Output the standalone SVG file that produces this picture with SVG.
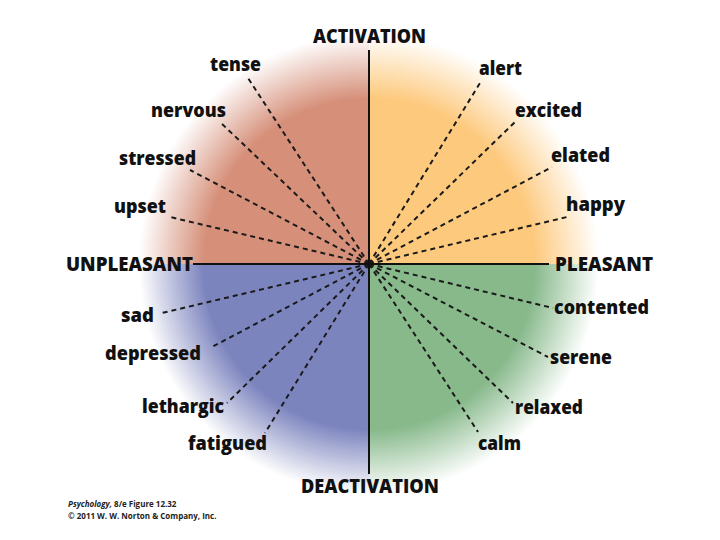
<svg xmlns="http://www.w3.org/2000/svg" width="720" height="540" viewBox="0 0 720 540">
<defs>
<radialGradient id="gTL" gradientUnits="userSpaceOnUse" cx="369" cy="264" r="230">
<stop offset="0" stop-color="#d6907a"/><stop offset="0.72" stop-color="#d6907a"/><stop offset="1" stop-color="#d6907a" stop-opacity="0"/>
</radialGradient>
<radialGradient id="gTR" gradientUnits="userSpaceOnUse" cx="369" cy="264" r="230">
<stop offset="0" stop-color="#fdc97d"/><stop offset="0.72" stop-color="#fdc97d"/><stop offset="1" stop-color="#fdc97d" stop-opacity="0"/>
</radialGradient>
<radialGradient id="gBL" gradientUnits="userSpaceOnUse" cx="369" cy="264" r="230">
<stop offset="0" stop-color="#7c84be"/><stop offset="0.72" stop-color="#7c84be"/><stop offset="1" stop-color="#7c84be" stop-opacity="0"/>
</radialGradient>
<radialGradient id="gBR" gradientUnits="userSpaceOnUse" cx="369" cy="264" r="230">
<stop offset="0" stop-color="#87b98b"/><stop offset="0.72" stop-color="#87b98b"/><stop offset="1" stop-color="#87b98b" stop-opacity="0"/>
</radialGradient>
</defs>
<style>
.lbl{font-family:"Open Sans","Liberation Sans",sans-serif;font-weight:800;font-size:19px;fill:#111}
.ax{font-family:"Open Sans","Liberation Sans",sans-serif;font-weight:800;font-size:19px;fill:#111}
.dash{stroke:#1a1a1a;stroke-width:2;stroke-dasharray:5 4;fill:none}
.axis{stroke:#111;stroke-width:2}
.foot{font-family:"Open Sans","Liberation Sans",sans-serif;font-size:8px;fill:#222;font-weight:bold}
</style>
<rect width="720" height="540" fill="#fff"/>
<g id="quadrants">
<path d="M369,264 L369,34 A230,230 0 0 0 139,264 Z" fill="url(#gTL)"/>
<path d="M369,264 L369,34 A230,230 0 0 1 599,264 Z" fill="url(#gTR)"/>
<path d="M369,264 L139,264 A230,230 0 0 0 369,494 Z" fill="url(#gBL)"/>
<path d="M369,264 L599,264 A230,230 0 0 1 369,494 Z" fill="url(#gBR)"/>
</g>
<g id="connectors">
<line class="dash" x1="369" y1="264" x2="248" y2="78"/>
<line class="dash" x1="369" y1="264" x2="220" y2="122"/>
<line class="dash" x1="369" y1="264" x2="190" y2="170"/>
<line class="dash" x1="369" y1="264" x2="170" y2="217"/>
<line class="dash" x1="369" y1="264" x2="480" y2="83"/>
<line class="dash" x1="369" y1="264" x2="517" y2="120"/>
<line class="dash" x1="369" y1="264" x2="552" y2="167"/>
<line class="dash" x1="369" y1="264" x2="567" y2="217"/>
<line class="dash" x1="369" y1="264" x2="162" y2="313"/>
<line class="dash" x1="369" y1="264" x2="210" y2="348"/>
<line class="dash" x1="369" y1="264" x2="227" y2="403"/>
<line class="dash" x1="369" y1="264" x2="265" y2="433"/>
<line class="dash" x1="369" y1="264" x2="553" y2="308"/>
<line class="dash" x1="369" y1="264" x2="548" y2="357"/>
<line class="dash" x1="369" y1="264" x2="513" y2="403"/>
<line class="dash" x1="369" y1="264" x2="478" y2="432"/>
<line class="axis" x1="369" y1="50" x2="369" y2="474"/>
<line class="axis" x1="193" y1="264" x2="549" y2="264"/>
</g>
<g id="axis-labels">
<text id="activation" class="ax" x="313" y="43" textLength="113" lengthAdjust="spacingAndGlyphs">ACTIVATION</text>
<text id="deactivation" class="ax" x="301" y="493" textLength="138" lengthAdjust="spacingAndGlyphs">DEACTIVATION</text>
<text id="unpleasant" class="ax" x="66" y="271" textLength="127" lengthAdjust="spacingAndGlyphs">UNPLEASANT</text>
<text id="pleasant" class="ax" x="555" y="271" textLength="98" lengthAdjust="spacingAndGlyphs">PLEASANT</text>
</g>
<g id="labels">
<text id="tense" class="lbl" x="210" y="71" textLength="51" lengthAdjust="spacingAndGlyphs">tense</text>
<text id="nervous" class="lbl" x="151" y="117" textLength="75" lengthAdjust="spacingAndGlyphs">nervous</text>
<text id="stressed" class="lbl" x="119" y="165" textLength="77" lengthAdjust="spacingAndGlyphs">stressed</text>
<text id="upset" class="lbl" x="114" y="213" textLength="52" lengthAdjust="spacingAndGlyphs">upset</text>
<text id="sad" class="lbl" x="121" y="322" textLength="33" lengthAdjust="spacingAndGlyphs">sad</text>
<text id="depressed" class="lbl" x="105" y="360" textLength="96" lengthAdjust="spacingAndGlyphs">depressed</text>
<text id="lethargic" class="lbl" x="142" y="413" textLength="82" lengthAdjust="spacingAndGlyphs">lethargic</text>
<text id="fatigued" class="lbl" x="188" y="450" textLength="79" lengthAdjust="spacingAndGlyphs">fatigued</text>
<text id="alert" class="lbl" x="479" y="75" textLength="43" lengthAdjust="spacingAndGlyphs">alert</text>
<text id="excited" class="lbl" x="515" y="117" textLength="67" lengthAdjust="spacingAndGlyphs">excited</text>
<text id="elated" class="lbl" x="551" y="162" textLength="59" lengthAdjust="spacingAndGlyphs">elated</text>
<text id="happy" class="lbl" x="566" y="211" textLength="59" lengthAdjust="spacingAndGlyphs">happy</text>
<text id="contented" class="lbl" x="554" y="314" textLength="95" lengthAdjust="spacingAndGlyphs">contented</text>
<text id="serene" class="lbl" x="550" y="364" textLength="62" lengthAdjust="spacingAndGlyphs">serene</text>
<text id="relaxed" class="lbl" x="515" y="414" textLength="68" lengthAdjust="spacingAndGlyphs">relaxed</text>
<text id="calm" class="lbl" x="478" y="450" textLength="43" lengthAdjust="spacingAndGlyphs">calm</text>
</g>
<g id="footer">
<text class="foot" x="68" y="507"><tspan font-style="italic">Psychology,</tspan> 8/e  Figure 12.32</text>
<text class="foot" x="68" y="519">© 2011 W. W. Norton &amp; Company, Inc.</text>
</g>
</svg>
